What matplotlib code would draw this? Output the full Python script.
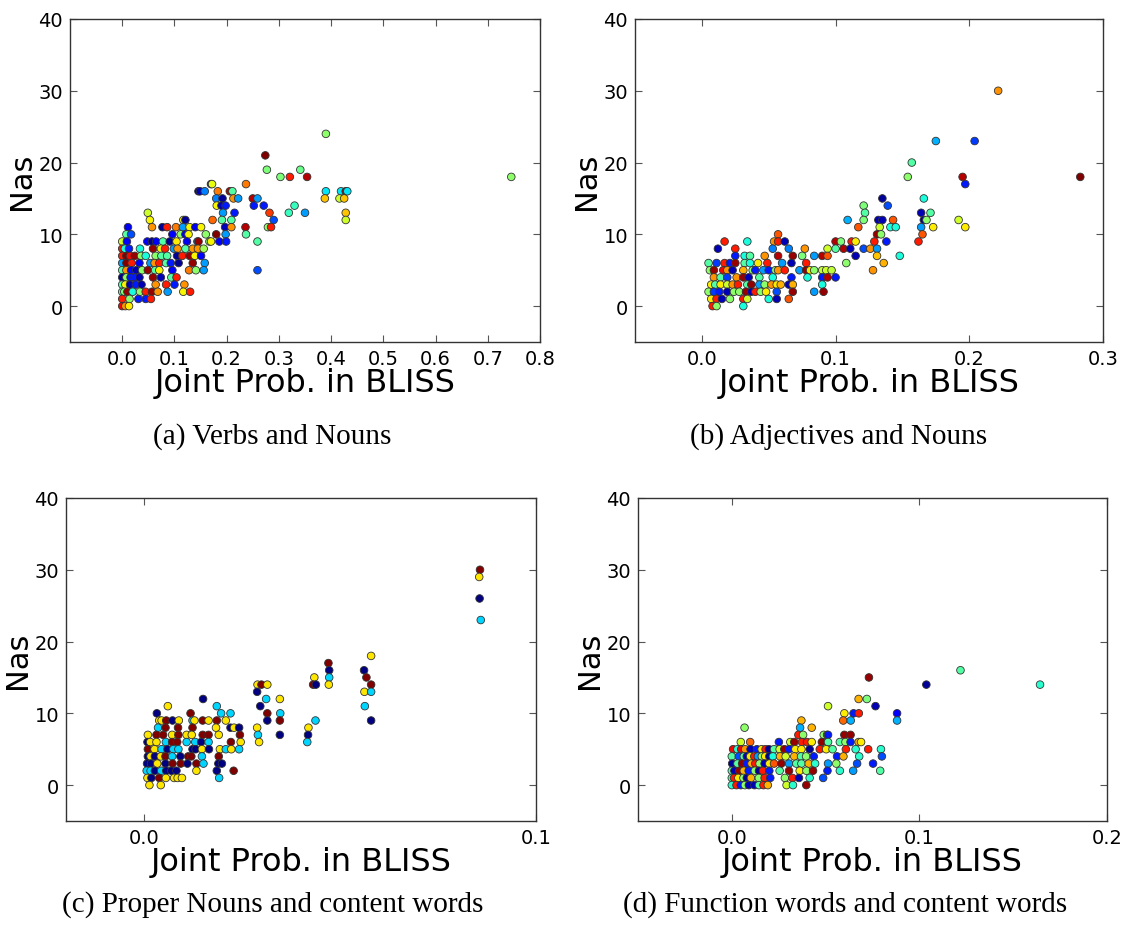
import matplotlib
matplotlib.use("Agg")
import matplotlib.pyplot as plt

# ---------------- Panel (a) Verbs and Nouns ----------------
a_x = [0.390,
       0.274,
       0.277, 0.341,
       0.303, 0.321, 0.354, 0.745,
       0.170, 0.172, 0.237,
       0.146, 0.149, 0.158, 0.183, 0.206, 0.211, 0.390, 0.419, 0.428, 0.431,
       0.180, 0.192, 0.213, 0.222, 0.250, 0.259, 0.388, 0.416, 0.425,
       0.181, 0.190, 0.198, 0.252, 0.271, 0.330,
       0.049, 0.193, 0.215, 0.282, 0.319, 0.350, 0.428,
       0.053, 0.117, 0.121, 0.173, 0.191, 0.209, 0.290, 0.428,
       0.011, 0.057, 0.077, 0.086, 0.103, 0.116, 0.129, 0.140, 0.151, 0.197, 0.209, 0.236, 0.279, 0.285,
       0.008, 0.017, 0.096, 0.112, 0.121, 0.127, 0.160, 0.180, 0.198, 0.237,
       0.000, 0.009, 0.048, 0.057, 0.065, 0.078, 0.091, 0.104, 0.124, 0.144, 0.146, 0.167, 0.170, 0.186, 0.199, 0.259,
       0.000, 0.005, 0.013, 0.034, 0.059, 0.074, 0.082, 0.099, 0.106, 0.121, 0.135, 0.145, 0.156,
       0.000, 0.008, 0.015, 0.024, 0.036, 0.045, 0.064, 0.075, 0.086, 0.105, 0.115, 0.129, 0.139, 0.151,
       0.000, 0.008, 0.018, 0.033, 0.054, 0.062, 0.071, 0.084, 0.093, 0.108, 0.135, 0.158,
       0.000, 0.008, 0.017, 0.027, 0.038, 0.049, 0.063, 0.071, 0.096, 0.128, 0.141, 0.156, 0.259,
       0.000, 0.008, 0.016, 0.024, 0.033, 0.059, 0.074, 0.094, 0.104,
       0.000, 0.006, 0.015, 0.026, 0.037, 0.064, 0.084, 0.100, 0.119,
       0.000, 0.004, 0.010, 0.020, 0.034, 0.045, 0.057, 0.068, 0.087, 0.117, 0.130,
       0.000, 0.014, 0.031, 0.045, 0.055,
       0.000, 0.006, 0.013]
a_y = [24,
       21,
       19, 19,
       18, 18, 18, 18,
       17, 17, 17,
       16, 16, 16, 16, 16, 16, 16, 16, 16, 16,
       15, 15, 15, 15, 15, 15, 15, 15, 15,
       14, 14, 14, 14, 14, 14,
       13, 13, 13, 13, 13, 13, 13,
       12, 12, 12, 12, 12, 12, 12, 12,
       11, 11, 11, 11, 11, 11, 11, 11, 11, 11, 11, 11, 11, 11,
       10, 10, 10, 10, 10, 10, 10, 10, 10, 10,
       9, 9, 9, 9, 9, 9, 9, 9, 9, 9, 9, 9, 9, 9, 9, 9,
       8, 8, 8, 8, 8, 8, 8, 8, 8, 8, 8, 8, 8,
       7, 7, 7, 7, 7, 7, 7, 7, 7, 7, 7, 7, 7, 7,
       6, 6, 6, 6, 6, 6, 6, 6, 6, 6, 6, 6,
       5, 5, 5, 5, 5, 5, 5, 5, 5, 5, 5, 5, 5,
       4, 4, 4, 4, 4, 4, 4, 4, 4,
       3, 3, 3, 3, 3, 3, 3, 3, 3,
       2, 2, 2, 2, 2, 2, 2, 2, 2, 2, 2,
       1, 1, 1, 1, 1,
       0, 0, 0]
a_c = [0.52,
       1.00,
       0.50, 0.48,
       0.50, 0.88, 0.95, 0.52,
       0.05, 0.63, 0.78,
       0.02, 0.05, 0.25, 0.78, 0.95, 0.45, 0.35, 0.35, 0.95, 0.35,
       0.25, 0.02, 0.75, 0.28, 0.95, 0.28, 0.70, 0.60, 0.70,
       0.65, 0.05, 0.15, 0.15, 0.15, 0.42,
       0.60, 0.28, 0.15, 0.85, 0.42, 0.28, 0.70,
       0.65, 0.65, 0.02, 0.80, 0.45, 0.45, 0.20, 0.60,
       0.10, 0.75, 0.02, 0.88, 0.78, 0.28, 0.65, 0.10, 0.65, 0.05, 0.75, 0.95, 0.52, 0.88,
       0.45, 0.20, 0.12, 0.52, 0.12, 0.65, 0.52, 1.00, 0.28, 0.45,
       0.60, 0.12, 0.12, 0.02, 0.12, 0.45, 0.02, 0.66, 0.10, 0.28, 0.98, 0.52, 0.65, 0.12, 0.15, 0.45,
       0.88, 0.38, 0.15, 0.38, 0.98, 0.65, 0.88, 0.28, 0.75, 0.45, 0.75, 0.75, 0.55,
       0.88, 1.00, 0.90, 0.98, 0.52, 0.38, 0.52, 0.45, 0.45, 0.02, 0.88, 0.98, 0.65, 0.12,
       0.28, 1.00, 0.88, 0.12, 0.28, 0.75, 0.88, 0.45, 0.15, 0.02, 0.98, 0.28,
       0.45, 0.75, 0.12, 0.05, 0.52, 0.98, 0.45, 0.65, 0.12, 0.78, 0.52, 0.28, 0.20,
       0.02, 0.52, 0.15, 0.15, 0.05, 0.98, 0.05, 0.45, 0.88,
       0.45, 0.65, 0.05, 0.15, 0.05, 0.75, 0.88, 0.15, 0.75,
       0.45, 0.50, 0.98, 0.38, 0.52, 0.88, 0.98, 0.75, 0.28, 0.65, 0.88,
       0.88, 0.52, 0.15, 0.15, 0.88,
       0.90, 0.75, 0.66]

# ---------------- Panel (b) Adjectives and Nouns ----------------
b_x = [0.2216,
       0.175, 0.204,
       0.157,
       0.154, 0.195, 0.283,
       0.197,
       0.135, 0.166,
       0.121, 0.139,
       0.122, 0.164, 0.171,
       0.109, 0.121, 0.132, 0.135, 0.143, 0.166, 0.168, 0.192,
       0.117, 0.133, 0.141, 0.145, 0.164, 0.173, 0.197,
       0.057, 0.131, 0.134, 0.165,
       0.017, 0.034, 0.054, 0.057, 0.062, 0.100, 0.104, 0.112, 0.115, 0.129, 0.138, 0.162,
       0.012, 0.025, 0.053, 0.065, 0.077, 0.094, 0.100, 0.106, 0.111, 0.121, 0.126, 0.131,
       0.025, 0.032, 0.036, 0.047, 0.057, 0.068, 0.075, 0.084, 0.090, 0.094, 0.115, 0.131, 0.148,
       0.005, 0.011, 0.017, 0.021, 0.025, 0.032, 0.036, 0.042, 0.049, 0.060, 0.067, 0.078, 0.108, 0.136,
       0.006, 0.009, 0.016, 0.019, 0.023, 0.031, 0.038, 0.040, 0.046, 0.050, 0.055, 0.057, 0.062, 0.073,
       0.078, 0.081, 0.084, 0.090, 0.093, 0.097, 0.128,
       0.009, 0.014, 0.019, 0.026, 0.031, 0.035, 0.043, 0.053, 0.067, 0.079, 0.090, 0.094, 0.100,
       0.007, 0.010, 0.014, 0.019, 0.023, 0.027, 0.034, 0.037, 0.043, 0.047, 0.052, 0.056, 0.059, 0.065,
       0.068, 0.090,
       0.005, 0.009, 0.013, 0.019, 0.024, 0.028, 0.033, 0.037, 0.040, 0.044, 0.048, 0.056, 0.068, 0.084,
       0.091,
       0.007, 0.011, 0.015, 0.021, 0.031, 0.034, 0.050, 0.056, 0.065,
       0.008, 0.011, 0.031]
b_y = [30,
       23, 23,
       20,
       18, 18, 18,
       17,
       15, 15,
       14, 14,
       13, 13, 13,
       12, 12, 12, 12, 12, 12, 12, 12,
       11, 11, 11, 11, 11, 11, 11,
       10, 10, 10, 10,
       9, 9, 9, 9, 9, 9, 9, 9, 9, 9, 9, 9,
       8, 8, 8, 8, 8, 8, 8, 8, 8, 8, 8, 8,
       7, 7, 7, 7, 7, 7, 7, 7, 7, 7, 7, 7, 7,
       6, 6, 6, 6, 6, 6, 6, 6, 6, 6, 6, 6, 6, 6,
       5, 5, 5, 5, 5, 5, 5, 5, 5, 5, 5, 5, 5, 5,
       5, 5, 5, 5, 5, 5, 5,
       4, 4, 4, 4, 4, 4, 4, 4, 4, 4, 4, 4, 4,
       3, 3, 3, 3, 3, 3, 3, 3, 3, 3, 3, 3, 3, 3,
       3, 3,
       2, 2, 2, 2, 2, 2, 2, 2, 2, 2, 2, 2, 2, 2,
       2,
       1, 1, 1, 1, 1, 1, 1, 1, 1,
       0, 0, 0]
b_c = [0.75,
       0.30, 0.18,
       0.45,
       0.52, 0.95, 1.00,
       0.15,
       0.02, 0.38,
       0.50, 0.20,
       0.45, 0.05, 0.45,
       0.30, 0.50, 0.05, 0.05, 0.82, 0.02, 0.52, 0.60,
       0.82, 0.60, 0.38, 0.38, 0.28, 0.66, 0.66,
       0.82, 0.98, 0.52, 0.82,
       0.88, 0.38, 0.75, 0.88, 0.05, 0.95, 0.50, 0.88, 0.66, 0.88, 0.15, 0.88,
       0.05, 0.88, 0.25, 0.25, 0.75, 0.60, 0.45, 0.95, 0.05, 0.20, 0.75, 0.28,
       0.15, 0.38, 0.45, 0.75, 0.95, 0.98, 0.50, 0.28, 0.95, 0.82, 0.05, 0.70, 0.38,
       0.45, 0.18, 0.88, 0.15, 0.98, 0.45, 0.38, 0.66, 0.88, 0.28, 0.05, 0.88, 0.52, 0.72,
       0.52, 0.98, 0.90, 0.75, 0.05, 0.72, 0.52, 0.15, 0.28, 0.15, 0.50, 0.75, 0.88, 0.28,
       0.98, 0.66, 0.52, 0.58, 0.60, 0.58, 0.75,
       0.75, 0.45, 0.18, 0.75, 0.98, 0.05, 0.45, 0.38, 0.15, 0.38, 0.15, 0.95, 0.15,
       0.66, 0.45, 0.66, 0.60, 0.75, 0.88, 0.45, 0.98, 0.28, 0.52, 0.75, 0.66, 0.72, 0.05,
       0.72, 0.38,
       0.52, 0.18, 0.15, 0.05, 0.52, 0.52, 0.98, 0.05, 0.88, 0.52, 0.66, 0.20, 0.98, 0.28,
       0.98,
       0.66, 0.88, 0.05, 0.52, 0.88, 0.60, 0.38, 0.05, 0.82,
       0.88, 0.52, 0.38]

# ---------------- Panel (c) Proper Nouns and content words ----------------
# colour groups: 0 = navy, 1/3 = cyan, 2/3 = yellow, 1 = dark red
N, C, Y, R = 0.0, 1 / 3, 2 / 3, 1.0
c_x = [0.0857, 0.0855, 0.0856, 0.0859,
       0.0579,
       0.0470,
       0.0472, 0.0561,
       0.0472, 0.0434, 0.0567,
       0.0289, 0.0299, 0.0314, 0.0431, 0.0438, 0.0471, 0.0579,
       0.0288, 0.0562, 0.0579,
       0.0150, 0.0311, 0.0346,
       0.0296, 0.0060, 0.0185, 0.0563,
       0.0032, 0.0118, 0.0196, 0.0220, 0.0314, 0.0347,
       0.0038, 0.0044, 0.0056, 0.0072, 0.0088, 0.0123, 0.0128, 0.0149, 0.0164, 0.0185, 0.0208,
       0.0314, 0.0346, 0.0437, 0.0579,
       0.0035, 0.0054, 0.0086, 0.0123, 0.0183, 0.0220, 0.0229, 0.0242, 0.0288, 0.0419,
       0.0009, 0.0031, 0.0048, 0.0071, 0.0087, 0.0108, 0.0121, 0.0149, 0.0164, 0.0190, 0.0244,
       0.0290, 0.0346, 0.0418,
       0.0008, 0.0015, 0.0031, 0.0055, 0.0071, 0.0084, 0.0108, 0.0130, 0.0145, 0.0164, 0.0221,
       0.0246, 0.0293, 0.0416,
       0.0009, 0.0026, 0.0044, 0.0059, 0.0074, 0.0087, 0.0123, 0.0131, 0.0147, 0.0165, 0.0193,
       0.0208, 0.0222, 0.0242,
       0.0009, 0.0016, 0.0027, 0.0042, 0.0054, 0.0071, 0.0092, 0.0112, 0.0120, 0.0147, 0.0190,
       0.0007, 0.0017, 0.0033, 0.0054, 0.0072, 0.0093, 0.0110, 0.0133, 0.0151, 0.0189, 0.0198,
       0.0006, 0.0016, 0.0027, 0.0043, 0.0056, 0.0069, 0.0082, 0.0133, 0.0185, 0.0228,
       0.0008, 0.0018, 0.0038, 0.0055, 0.0076, 0.0085, 0.0096, 0.0191,
       0.0013, 0.0042]
c_y = [30, 29, 26, 23,
       18,
       17,
       16, 16,
       15, 15, 15,
       14, 14, 14, 14, 14, 14, 14,
       13, 13, 13,
       12, 12, 12,
       11, 11, 11, 11,
       10, 10, 10, 10, 10, 10,
       9, 9, 9, 9, 9, 9, 9, 9, 9, 9, 9,
       9, 9, 9, 9,
       8, 8, 8, 8, 8, 8, 8, 8, 8, 8,
       7, 7, 7, 7, 7, 7, 7, 7, 7, 7, 7,
       7, 7, 7,
       6, 6, 6, 6, 6, 6, 6, 6, 6, 6, 6,
       6, 6, 6,
       5, 5, 5, 5, 5, 5, 5, 5, 5, 5, 5,
       5, 5, 5,
       4, 4, 4, 4, 4, 4, 4, 4, 4, 4, 4,
       3, 3, 3, 3, 3, 3, 3, 3, 3, 3, 3,
       2, 2, 2, 2, 2, 2, 2, 2, 2, 2,
       1, 1, 1, 1, 1, 1, 1, 1,
       0, 0]
c_c = [R, Y, N, C,
       Y,
       R,
       N, N,
       C, Y, R,
       Y, R, Y, R, N, Y, R,
       N, Y, C,
       N, C, Y,
       N, Y, C, C,
       N, R, C, C, R, C,
       Y, Y, R, N, Y, C, Y, R, Y, R, Y,
       N, R, C, N,
       C, R, R, R, Y, N, Y, N, Y, Y,
       Y, R, R, Y, R, Y, Y, R, R, Y, R,
       C, N, N,
       N, Y, Y, C, R, R, C, C, N, C, R,
       Y, Y, C,
       R, Y, C, N, C, C, N, N, Y, N, Y,
       C, Y, C,
       N, Y, N, Y, R, C, N, R, R, C, R,
       N, N, Y, N, R, R, N, R, C, N, N,
       C, C, N, C, N, N, N, Y, N, R,
       Y, N, R, Y, Y, Y, Y, C,
       Y, Y]

# ---------------- Panel (d) Function words and content words ----------------
d_x = [0.1219,
       0.0731,
       0.1037, 0.1643,
       0.0676, 0.0720,
       0.0513, 0.0766,
       0.0600, 0.0649, 0.0677, 0.0881,
       0.0371, 0.0594, 0.0634, 0.0881,
       0.0068, 0.0364, 0.0426,
       0.0355, 0.0380, 0.0490, 0.0508, 0.0513, 0.0600, 0.0633,
       0.0048, 0.0098, 0.0251, 0.0312, 0.0333, 0.0374, 0.0401, 0.0426, 0.0480, 0.0513, 0.0576,
       0.0606, 0.0633, 0.0676, 0.0689,
       0.0007, 0.0030, 0.0050, 0.0071, 0.0100, 0.0134, 0.0159, 0.0180, 0.0198, 0.0225, 0.0255,
       0.0280, 0.0305, 0.0339, 0.0371, 0.0415, 0.0469, 0.0503, 0.0537, 0.0608, 0.0660, 0.0727,
       0.0795,
       0.0000, 0.0037, 0.0064, 0.0080, 0.0098, 0.0120, 0.0139, 0.0160, 0.0178, 0.0200, 0.0219,
       0.0257, 0.0287, 0.0333, 0.0369, 0.0396, 0.0437, 0.0561, 0.0595, 0.0679, 0.0800,
       0.0002, 0.0030, 0.0055, 0.0080, 0.0105, 0.0125, 0.0148, 0.0175, 0.0200, 0.0225, 0.0264,
       0.0305, 0.0344, 0.0371, 0.0410, 0.0444, 0.0513, 0.0557, 0.0668, 0.0753,
       0.0000, 0.0014, 0.0040, 0.0064, 0.0090, 0.0123, 0.0145, 0.0166, 0.0200, 0.0255, 0.0305,
       0.0362, 0.0398, 0.0433, 0.0510, 0.0576, 0.0647, 0.0791,
       0.0000, 0.0012, 0.0035, 0.0062, 0.0080, 0.0102, 0.0144, 0.0175, 0.0205, 0.0283, 0.0323,
       0.0358, 0.0415, 0.0487,
       0.0000, 0.0025, 0.0048, 0.0070, 0.0091, 0.0121, 0.0145, 0.0169, 0.0192, 0.0292, 0.0326,
       0.0397]
d_y = [16,
       15,
       14, 14,
       12, 12,
       11, 11,
       10, 10, 10, 10,
       9, 9, 9, 9,
       8, 8, 8,
       7, 7, 7, 7, 7, 7, 7,
       6, 6, 6, 6, 6, 6, 6, 6, 6, 6, 6,
       6, 6, 6, 6,
       5, 5, 5, 5, 5, 5, 5, 5, 5, 5, 5,
       5, 5, 5, 5, 5, 5, 5, 5, 5, 5, 5,
       5,
       4, 4, 4, 4, 4, 4, 4, 4, 4, 4, 4,
       4, 4, 4, 4, 4, 4, 4, 4, 4, 4,
       3, 3, 3, 3, 3, 3, 3, 3, 3, 3, 3,
       3, 3, 3, 3, 3, 3, 3, 3, 3,
       2, 2, 2, 2, 2, 2, 2, 2, 2, 2, 2,
       2, 2, 2, 2, 2, 2, 2,
       1, 1, 1, 1, 1, 1, 1, 1, 1, 1, 1,
       1, 1, 1,
       0, 0, 0, 0, 0, 0, 0, 0, 0, 0, 0,
       0]
d_c = [0.45,
       0.98,
       0.02, 0.40,
       0.72, 0.50,
       0.60, 0.05,
       0.66, 0.15, 0.88, 0.12,
       0.72, 0.80, 0.30, 0.30,
       0.52, 0.30, 0.72,
       0.88, 0.52, 0.52, 0.72, 0.15, 0.98, 0.98,
       0.60, 0.80, 0.15, 0.60, 0.98, 0.88, 0.88, 0.66, 0.98, 0.45, 0.45,
       0.52, 0.15, 0.72, 0.66,
       0.90, 0.40, 0.90, 0.75, 0.05, 0.15, 0.66, 0.88, 0.02, 0.45, 0.60,
       0.98, 0.15, 0.66, 0.66, 0.02, 0.88, 0.66, 0.45, 0.88, 0.40, 0.88,
       0.40,
       0.45, 0.20, 0.45, 0.05, 0.66, 0.88, 0.28, 0.52, 0.66, 0.02, 0.38,
       0.72, 0.60, 0.72, 0.45, 0.52, 0.15, 0.15, 0.72, 0.40, 0.20,
       0.02, 0.45, 0.98, 0.15, 0.72, 0.88, 0.52, 0.05, 0.66, 0.82, 0.98,
       0.28, 0.45, 0.45, 0.72, 0.40, 0.28, 0.52, 0.20, 0.15,
       0.45, 0.05, 0.98, 0.72, 0.15, 0.52, 0.02, 0.88, 0.15, 0.45, 0.98,
       0.66, 0.52, 0.98, 0.15, 0.40, 0.28, 0.45,
       0.45, 0.88, 0.66, 0.52, 0.02, 0.72, 0.52, 0.88, 0.15, 0.52, 0.88,
       0.05, 0.40, 0.20,
       0.40, 0.88, 0.15, 0.52, 0.05, 0.05, 0.45, 0.88, 0.72, 0.60, 0.40,
       0.98]

panels = [
    dict(x=a_x, y=a_y, c=a_c, xlim=(-0.1, 0.8),
         xticks=[0.0, 0.1, 0.2, 0.3, 0.4, 0.5, 0.6, 0.7, 0.8],
         caption="(a) Verbs and Nouns"),
    dict(x=b_x, y=b_y, c=b_c, xlim=(-0.05, 0.3),
         xticks=[0.0, 0.1, 0.2, 0.3], caption="(b) Adjectives and Nouns"),
    dict(x=c_x, y=c_y, c=c_c, xlim=(-0.02, 0.1),
         xticks=[0.0, 0.1], caption="(c) Proper Nouns and content words"),
    dict(x=d_x, y=d_y, c=d_c, xlim=(-0.05, 0.2),
         xticks=[0.0, 0.1, 0.2], caption="(d) Function words and content words"),
]

W, H = 1123, 928
fig = plt.figure(figsize=(W / 100, H / 100), dpi=100)
fig.patch.set_facecolor("white")

# axes boxes in pixels: left, top, right, bottom
boxes = [(70, 20, 540, 343), (635, 20, 1103, 343),
         (66, 499, 536, 822), (638, 499, 1107, 822)]
caption_pos = [(272, 437), (839, 437), (273, 905), (845, 905)]

for p, (l, t, r, b), (cx, cy) in zip(panels, boxes, caption_pos):
    ax = fig.add_axes([l / W, 1 - b / H, (r - l) / W, (b - t) / H])
    ax.scatter(p["x"], p["y"], c=p["c"], cmap="jet", vmin=0, vmax=1, s=30,
               edgecolors="#333333", linewidths=0.6, zorder=3)
    ax.set_xlim(*p["xlim"])
    ax.set_ylim(-5, 40)
    ax.set_yticks([0, 10, 20, 30, 40])
    ax.set_xticks(p["xticks"])
    ax.set_xticklabels(["%.1f" % v for v in p["xticks"]])
    ax.tick_params(direction="in", length=5, width=0.8, labelsize=14,
                   top=True, right=True, color="#555555", pad=5)
    for s in ax.spines.values():
        s.set_linewidth(1.0)
        s.set_color("#333333")
    ax.set_xlabel("Joint Prob. in BLISS", fontsize=23, labelpad=-1)
    ax.set_ylabel("Nas", fontsize=22, labelpad=2)
    fig.text(cx / W, 1 - cy / H, p["caption"], ha="center", va="center",
             fontsize=21, family="Liberation Serif")

fig.savefig("out.png", dpi=100, facecolor="white")
